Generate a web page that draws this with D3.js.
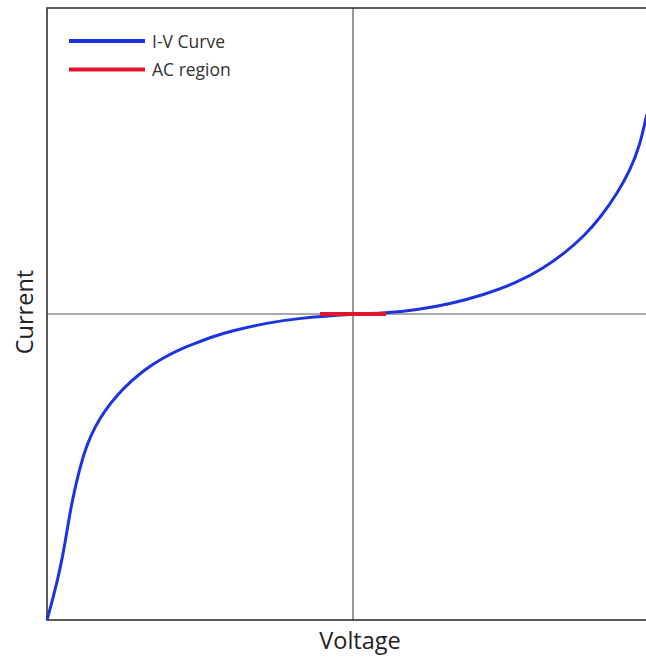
<!DOCTYPE html>
<html>
<head>
<meta charset="utf-8">
<script src="https://cdn.jsdelivr.net/npm/d3@7"></script>
<style>
  body { margin: 0; background: #fff; }
  text { font-family: "Open Sans", "Noto Sans", sans-serif; }
</style>
</head>
<body>
<div id="chart"></div>
<script>
// I-V curve points (voltage, current), both normalised to [-1, 1]
const voltage = [-1, -0.979, -0.958, -0.941, -0.925, -0.908, -0.892, -0.87, -0.843, -0.81,
  -0.767, -0.723, -0.68, -0.625, -0.571, -0.516, -0.462, -0.396, -0.281, -0.173, 0,
  0.105, 0.208, 0.317, 0.426, 0.535, 0.622, 0.698, 0.753, 0.807, 0.862, 0.905, 0.938, 0.96];
const current = [-1, -0.924, -0.837, -0.75, -0.648, -0.568, -0.5, -0.428, -0.368, -0.314,
  -0.26, -0.218, -0.181, -0.146, -0.118, -0.096, -0.075, -0.055, -0.029, -0.013, 0,
  0.003, 0.013, 0.033, 0.062, 0.102, 0.149, 0.204, 0.253, 0.313, 0.392, 0.468, 0.552, 0.652];

// small-signal (AC) region around the origin
const acVoltage = [-0.108, 0.108];
const acCurrent = [0, 0];

const legendLabels = ["I-V Curve", "AC region"];
const legendColors = ["#1c34e0", "#e0162f"];

const W = 646, H = 657;
const margin = {top: 8, right: -13, bottom: 37, left: 47},
  width = W - margin.left - margin.right,
  height = H - margin.top - margin.bottom;

const svg = d3.select("#chart")
  .append("svg")
    .attr("width", W)
    .attr("height", H);

const g = svg.append("g")
  .attr("transform", `translate(${margin.left},${margin.top})`);

const x = d3.scaleLinear().domain([-1, 1]).range([0, width]);
const y = d3.scaleLinear().domain([-1, 1]).range([height, 0]);

// zero lines
g.append("line")
  .attr("x1", x(0)).attr("x2", x(0))
  .attr("y1", 0).attr("y2", height)
  .attr("stroke", "#555").attr("stroke-width", 1.2);
g.append("line")
  .attr("x1", 0).attr("x2", width)
  .attr("y1", y(0)).attr("y2", y(0))
  .attr("stroke", "#555").attr("stroke-width", 1.2);

// frame
g.append("rect")
  .attr("width", width).attr("height", height)
  .attr("fill", "none")
  .attr("stroke", "#333")
  .attr("stroke-width", 1.6);

const pts = voltage.map((v, i) => [v, current[i]]);
// basis spline smooths out the reading noise
const line = d3.line()
  .x(d => x(d[0]))
  .y(d => y(d[1]))
  .curve(d3.curveBasis);

g.append("path")
  .datum(pts)
  .attr("d", line)
  .attr("fill", "none")
  .attr("stroke", legendColors[0])
  .attr("stroke-width", 3);

g.append("path")
  .datum(acVoltage.map((v, i) => [v, acCurrent[i]]))
  .attr("d", d3.line().x(d => x(d[0])).y(d => y(d[1])))
  .attr("fill", "none")
  .attr("stroke", legendColors[1])
  .attr("stroke-width", 4);

// legend
const legend = svg.append("g").attr("transform", "translate(69,41)");
legendLabels.forEach(function(lab, i) {
  legend.append("line")
    .attr("x1", 0).attr("x2", 76)
    .attr("y1", i * 28.5).attr("y2", i * 28.5)
    .attr("stroke", legendColors[i])
    .attr("stroke-width", 4);
  legend.append("text")
    .attr("x", 83)
    .attr("y", i * 28.5 + 6.5)
    .text(lab)
    .style("font-size", "17.5px")
    .style("fill", "#333");
});

// axis titles
svg.append("text")
  .attr("text-anchor", "middle")
  .attr("x", 360)
  .attr("y", 649)
  .text("Voltage")
  .style("font-size", "23.5px")
  .style("fill", "#222");

svg.append("text")
  .attr("text-anchor", "middle")
  .attr("transform", "translate(33,312) rotate(-90)")
  .text("Current")
  .style("font-size", "23.5px")
  .style("fill", "#222");
</script>
</body>
</html>
